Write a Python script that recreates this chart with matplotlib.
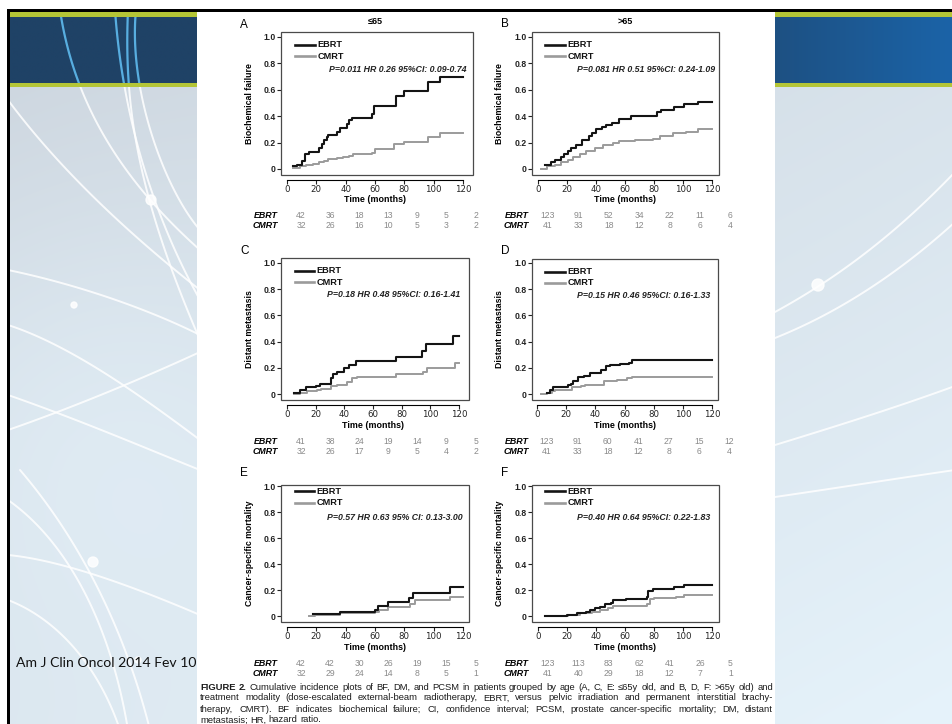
import numpy as np
import matplotlib
matplotlib.use("Agg")
import matplotlib.pyplot as plt
from matplotlib import font_manager as fm
from matplotlib.patches import Rectangle, Circle

W, H = 952, 724

# ---------------------------------------------------------------- data
months = [0, 20, 40, 60, 80, 100, 120]
yticks = [0, 0.2, 0.4, 0.6, 0.8, 1.0]
ytick_labels = ["0", "0.2", "0.4", "0.6", "0.8", "1.0"]

a_ebrt_t = [4, 7, 10, 12, 15, 22, 24, 25, 27, 28, 34, 36, 41, 42, 44, 58, 59, 74, 80, 96, 104, 120]
a_ebrt_v = [0.02, 0.03, 0.06, 0.115, 0.13, 0.16, 0.19, 0.22, 0.245, 0.26, 0.28, 0.31, 0.34, 0.37, 0.39,
            0.42, 0.48, 0.55, 0.59, 0.66, 0.70, 0.70]
a_cmrt_t = [4, 9, 13, 18, 22, 25, 28, 34, 38, 42, 45, 58, 60, 73, 80, 96, 104, 120]
a_cmrt_v = [0.01, 0.02, 0.03, 0.04, 0.05, 0.06, 0.075, 0.08, 0.09, 0.10, 0.115, 0.12, 0.155, 0.19,
            0.205, 0.24, 0.27, 0.27]

b_ebrt_t = [5, 9, 12, 16, 18, 21, 23, 26, 30, 35, 37, 40, 44, 47, 51, 56, 64, 82, 85, 94, 101, 110, 120]
b_ebrt_v = [0.03, 0.05, 0.07, 0.09, 0.11, 0.14, 0.16, 0.18, 0.22, 0.25, 0.27, 0.30, 0.32, 0.33, 0.35,
            0.38, 0.40, 0.43, 0.45, 0.47, 0.49, 0.51, 0.51]
b_cmrt_t = [2, 6, 12, 16, 21, 24, 29, 33, 39, 45, 52, 56, 67, 79, 84, 93, 102, 110, 120]
b_cmrt_v = [0.0, 0.02, 0.03, 0.05, 0.07, 0.09, 0.11, 0.14, 0.16, 0.18, 0.20, 0.21, 0.22, 0.23, 0.25,
            0.27, 0.28, 0.30, 0.30]

c_ebrt_t = [5, 9, 13, 20, 23, 31, 32, 35, 40, 43, 48, 76, 94, 97, 116, 120]
c_ebrt_v = [0.01, 0.03, 0.05, 0.06, 0.08, 0.12, 0.15, 0.17, 0.20, 0.22, 0.25, 0.28, 0.33, 0.38, 0.44, 0.44]
c_cmrt_t = [5, 9, 14, 21, 24, 31, 35, 42, 45, 49, 76, 95, 98, 117, 120]
c_cmrt_v = [0.0, 0.01, 0.02, 0.03, 0.04, 0.06, 0.07, 0.09, 0.12, 0.13, 0.15, 0.17, 0.20, 0.24, 0.24]

d_ebrt_t = [7, 9, 11, 21, 23, 25, 28, 32, 36, 44, 47, 50, 57, 63, 65, 120]
d_ebrt_v = [0.01, 0.03, 0.05, 0.07, 0.08, 0.10, 0.13, 0.14, 0.16, 0.18, 0.21, 0.22, 0.23, 0.24, 0.26, 0.26]
d_cmrt_t = [3, 7, 10, 12, 24, 30, 33, 46, 55, 62, 65, 120]
d_cmrt_v = [0.0, 0.01, 0.02, 0.03, 0.05, 0.06, 0.07, 0.10, 0.11, 0.12, 0.13, 0.13]

e_ebrt_t = [18, 36, 60, 62, 69, 83, 86, 111, 120]
e_ebrt_v = [0.013, 0.03, 0.05, 0.08, 0.11, 0.14, 0.18, 0.22, 0.22]
e_cmrt_t = [15, 19, 36, 60, 63, 69, 84, 87, 111, 120]
e_cmrt_v = [0.0, 0.01, 0.02, 0.03, 0.05, 0.07, 0.09, 0.12, 0.15, 0.15]

f_ebrt_t = [5, 20, 27, 33, 36, 39, 43, 46, 50, 52, 61, 75, 76, 79, 94, 101, 120]
f_ebrt_v = [0.0, 0.01, 0.02, 0.03, 0.05, 0.06, 0.07, 0.09, 0.10, 0.12, 0.13, 0.15, 0.19, 0.21, 0.22, 0.24, 0.24]
f_cmrt_t = [5, 21, 29, 37, 43, 48, 52, 75, 77, 80, 95, 101, 120]
f_cmrt_v = [0.0, 0.01, 0.02, 0.03, 0.05, 0.06, 0.08, 0.09, 0.13, 0.14, 0.15, 0.16, 0.16]

a_risk_ebrt = [42, 36, 18, 13, 9, 5, 2]
a_risk_cmrt = [32, 26, 16, 10, 5, 3, 2]
b_risk_ebrt = [123, 91, 52, 34, 22, 11, 6]
b_risk_cmrt = [41, 33, 18, 12, 8, 6, 4]
c_risk_ebrt = [41, 38, 24, 19, 14, 9, 5]
c_risk_cmrt = [32, 26, 17, 9, 5, 4, 2]
d_risk_ebrt = [123, 91, 60, 41, 27, 15, 12]
d_risk_cmrt = [41, 33, 18, 12, 8, 6, 4]
e_risk_ebrt = [42, 42, 30, 26, 19, 15, 5]
e_risk_cmrt = [32, 29, 24, 14, 8, 5, 1]
f_risk_ebrt = [123, 113, 83, 62, 41, 26, 5]
f_risk_cmrt = [41, 40, 29, 18, 12, 7, 1]

stats = ["P=0.011 HR 0.26 95%CI: 0.09-0.74", "P=0.081 HR 0.51 95%CI: 0.24-1.09",
         "P=0.18 HR 0.48 95%CI: 0.16-1.41", "P=0.15 HR 0.46 95%CI: 0.16-1.33",
         "P=0.57 HR 0.63 95% CI: 0.13-3.00", "P=0.40 HR 0.64 95%CI: 0.22-1.83"]
ylabels = ["Biochemical failure", "Biochemical failure", "Distant metastasis", "Distant metastasis",
           "Cancer-specific mortality", "Cancer-specific mortality"]
letters = ["A", "B", "C", "D", "E", "F"]

caption = ["FIGURE 2. Cumulative incidence plots of BF, DM, and PCSM in patients grouped by age (A, C, E: \u226465y old, and B, D, F: >65y old) and",
           "treatment modality (dose-escalated external-beam radiotherapy, EBRT, versus pelvic irradiation and permanent interstitial brachy-",
           "therapy, CMRT). BF indicates biochemical failure; CI, confidence interval; PCSM, prostate cancer-specific mortality; DM, distant",
           "metastasis; HR, hazard ratio."]

# ---------------------------------------------------------------- fonts
try:
    fm.findfont(fm.FontProperties(family="Liberation Sans Narrow"), fallback_to_default=False)
    NARROW = "Liberation Sans Narrow"
except ValueError:
    NARROW = "Liberation Sans"

EBRT_C = "#141414"
CMRT_C = "#9b9b9b"
NUM_C = "#8a8a8a"

fig = plt.figure(figsize=(W / 100, H / 100), dpi=100)
bg = fig.add_axes([0, 0, 1, 1])
bg.set_xlim(0, W)
bg.set_ylim(H, 0)
bg.axis("off")
rend = fig.canvas.get_renderer()


def fit_size(text, target_px, **kw):
    # font size that gives the text the width measured on the reference
    probe = bg.text(0, 0, text, fontsize=10, **kw)
    w = probe.get_window_extent(rend).width
    probe.remove()
    return 10 * target_px / w


fs_stat = fit_size(stats[0], 138, family=NARROW, fontweight="bold", style="italic")
fs_time = fit_size("Time (months)", 61, family=NARROW, fontweight="bold")
fs_ylab = fit_size("Biochemical failure", 80, family=NARROW, fontweight="bold")
fs_cap = fit_size(caption[0], 560, family=NARROW)
fs_leg = 6.6
fs_risk = 6.4
fs_num = 6.2

# ---------------------------------------------------------------- slide background
yy, xx = np.mgrid[0:H:2, 0:W:2]
s = np.clip(0.55 * (yy - 87) / 637 + 0.45 * xx / W, 0, 1)
hl = np.exp(-((xx - 90) ** 2 + (yy - 420) ** 2) / (2 * 170 ** 2)) * 0.35
s = np.clip(s + hl, 0, 1)[..., None]
c0 = np.array([0xcd, 0xd6, 0xdf]) / 255
c1 = np.array([0xe6, 0xf3, 0xfb]) / 255
bg.imshow(c0 * (1 - s) + c1 * s, extent=[0, W, H, 0], aspect="auto", zorder=0, interpolation="bilinear")


def bez(p0, p1, p2, p3, n=120):
    t = np.linspace(0, 1, n)[:, None]
    p = (1 - t) ** 3 * np.array(p0) + 3 * (1 - t) ** 2 * t * np.array(p1) \
        + 3 * (1 - t) * t ** 2 * np.array(p2) + t ** 3 * np.array(p3)
    return p[:, 0], p[:, 1]


swirls = [
    ((60, 10), (72, 90), (110, 170), (200, 250)),
    ((115, 10), (122, 110), (150, 210), (200, 300)),
    ((128, 10), (124, 100), (135, 190), (200, 340)),
    ((136, 10), (128, 90), (165, 190), (200, 230)),
    ((8, 100), (60, 170), (130, 235), (200, 290)),
    ((8, 270), (80, 285), (150, 310), (200, 335)),
    ((8, 325), (70, 345), (140, 395), (200, 440)),
    ((8, 395), (80, 420), (150, 450), (200, 470)),
    ((8, 430), (80, 405), (150, 375), (200, 352)),
    ((8, 555), (60, 560), (130, 585), (200, 615)),
    ((20, 470), (80, 540), (125, 630), (150, 730)),
    ((8, 500), (65, 540), (110, 620), (128, 730)),
    ((8, 600), (60, 620), (100, 670), (120, 730)),
    ((775, 312), (830, 282), (890, 240), (955, 172)),
    ((775, 338), (840, 312), (900, 272), (955, 222)),
    ((775, 445), (850, 422), (900, 406), (955, 386)),
    ((775, 497), (850, 486), (900, 478), (955, 470)),
]
for sw in swirls:
    bx, by = bez(*sw)
    bg.plot(bx, by, color="white", lw=1.4, alpha=0.85, zorder=1, solid_capstyle="round")
for cx, cy, r in [(151, 200, 5), (74, 305, 3), (93, 562, 5), (138, 660, 3), (818, 285, 6)]:
    bg.add_patch(Circle((cx, cy), r, color="white", alpha=0.85, zorder=1))

# header band
hx = np.linspace(0, 1, 200)
hs = np.clip((hx * W - 640) / 312, 0, 1)
hcol0 = np.array([0x1f, 0x42, 0x66]) / 255
hcol1 = np.array([0x1b, 0x63, 0xa7]) / 255
band = (hcol0 * (1 - hs[:, None]) + hcol1 * hs[:, None])[None, :, :]
band = np.repeat(band, 20, axis=0)
bg.imshow(band, extent=[0, W, 87, 12], aspect="auto", zorder=2, interpolation="bilinear")
hdr = Rectangle((0, 12), W, 75, transform=bg.transData)
for sw in swirls[:4]:
    bx, by = bez(*sw)
    ln, = bg.plot(bx, by, color="#58aee0", lw=1.6, zorder=3)
    ln.set_clip_path(hdr)
bg.add_patch(Rectangle((0, 12), W, 5, color="#b4c536", zorder=4, lw=0))
bg.add_patch(Rectangle((0, 83), W, 4, color="#b4c536", zorder=4, lw=0))

# white page of the journal figure
bg.add_patch(Rectangle((197, 11), 578, H, color="white", zorder=5, lw=0))
# black slide border
bg.add_patch(Rectangle((7, 9), W, 3, color="black", zorder=6, lw=0))
bg.add_patch(Rectangle((7, 9), 3, H, color="black", zorder=6, lw=0))
bg.add_patch(Rectangle((0, 0), 7, H, color="white", zorder=6, lw=0))
bg.add_patch(Rectangle((0, 0), W, 9, color="white", zorder=6, lw=0))

fs_src = fit_size("Am J Clin Oncol 2014 Fev 10", 180, family=["Lato", "DejaVu Sans"])
bg.text(16, 663, "Am J Clin Oncol 2014 Fev 10", fontsize=fs_src, family=["Lato", "DejaVu Sans"],
        color="#111111", va="center", ha="left", zorder=7)

# ---------------------------------------------------------------- panels
# frame (left, top, right, bottom) px, x of 0 and 120, y of 1.0 and 0
layout = [
    ((281, 32, 473, 175), (287, 463), (37, 169)),
    ((532, 32, 719, 175), (538, 712), (37, 169)),
    ((281, 258, 469, 400), (287, 459), (263, 394)),
    ((532, 259, 718, 400), (537, 712), (263, 394)),
    ((281, 485, 469, 622), (287, 463), (486, 616)),
    ((532, 485, 719, 622), (538, 712), (486, 616)),
]
curves = [(a_ebrt_t, a_ebrt_v, a_cmrt_t, a_cmrt_v), (b_ebrt_t, b_ebrt_v, b_cmrt_t, b_cmrt_v),
          (c_ebrt_t, c_ebrt_v, c_cmrt_t, c_cmrt_v), (d_ebrt_t, d_ebrt_v, d_cmrt_t, d_cmrt_v),
          (e_ebrt_t, e_ebrt_v, e_cmrt_t, e_cmrt_v), (f_ebrt_t, f_ebrt_v, f_cmrt_t, f_cmrt_v)]
risks = [(a_risk_ebrt, a_risk_cmrt), (b_risk_ebrt, b_risk_cmrt), (c_risk_ebrt, c_risk_cmrt),
         (d_risk_ebrt, d_risk_cmrt), (e_risk_ebrt, e_risk_cmrt), (f_risk_ebrt, f_risk_cmrt)]
leg_y = [(0.91, 0.83, 0.74)] * 4 + [(0.955, 0.87, 0.765)] * 2
stat_x = [0.964, 0.979, 0.952, 0.957, 0.968, 0.952]
risk_y = [(215, 225), (215, 225), (441, 451), (441, 451), (663, 674), (663, 674)]
letter_y = [25, 24, 251, 251, 473, 473]

for i, ((l, t, r, b), (x0, x120), (y1, y0)) in enumerate(layout):
    ax = fig.add_axes([l / W, 1 - b / H, (r - l) / W, (b - t) / H])
    ax.set_zorder(10)
    ppx = (x120 - x0) / 120
    ax.set_xlim(-(x0 - l) / ppx, 120 + (r - x120) / ppx)
    ppy = y0 - y1
    ax.set_ylim(-(b - y0) / ppy, 1 + (y1 - t) / ppy)

    et, ev, ct, cv = curves[i]
    ax.step(ct, cv, where="post", color=CMRT_C, lw=1.4, zorder=2)
    ax.step(et, ev, where="post", color=EBRT_C, lw=1.5, zorder=3)

    ax.set_xticks(months)
    ax.set_xticklabels([str(m) for m in months])
    ax.set_yticks(yticks)
    ax.set_yticklabels(ytick_labels)
    ax.tick_params(length=2.6, width=0.8, pad=1.2, labelsize=6.2, colors="#222222")
    for lab in ax.get_xticklabels() + ax.get_yticklabels():
        lab.set_fontweight("bold")
        lab.set_family("Liberation Sans")
    for side in ["top", "right", "left"]:
        ax.spines[side].set_visible(False)
    ax.spines["bottom"].set_position(("outward", 3.6))
    ax.spines["bottom"].set_bounds(0, 120)
    ax.spines["bottom"].set_linewidth(0.8)
    ax.add_patch(Rectangle((0, 0), 1, 1, transform=ax.transAxes, fill=False, ec="#4a4a4a",
                           lw=0.9, clip_on=False, zorder=4))

    # legend
    ly = leg_y[i]
    ax.plot([0.072, 0.178], [ly[0], ly[0]], transform=ax.transAxes, color=EBRT_C, lw=1.9)
    ax.plot([0.072, 0.178], [ly[1], ly[1]], transform=ax.transAxes, color=CMRT_C, lw=1.9)
    ax.text(0.19, ly[0], "EBRT", transform=ax.transAxes, fontsize=fs_leg, family=NARROW,
            fontweight="bold", va="center", color="#111111")
    ax.text(0.19, ly[1], "CMRT", transform=ax.transAxes, fontsize=fs_leg, family=NARROW,
            fontweight="bold", va="center", color="#111111")
    ax.text(stat_x[i], ly[2], stats[i], transform=ax.transAxes, fontsize=fs_stat, family=NARROW,
            fontweight="bold", style="italic", ha="right", va="center", color="#222222")

    # labels drawn in slide pixel coordinates
    bg.text((x0 + x120) / 2, b + 25, "Time (months)", fontsize=fs_time, family=NARROW,
            fontweight="bold", ha="center", va="center", zorder=7)
    bg.text(l - 32, (t + b) / 2, ylabels[i], rotation=90, fontsize=fs_ylab, family=NARROW,
            fontweight="bold", ha="center", va="center", zorder=7)
    bg.text(l - 41 if i % 2 == 0 else l - 31, letter_y[i], letters[i], fontsize=8.5,
            family="Liberation Sans", ha="left", va="center", zorder=7)

    # numbers at risk
    lab_x = l - 3
    start, step = (x0 + 14, 29.1) if i % 2 == 0 else (x0 + 10, 30.4)
    for row, (name, vals) in enumerate(zip(["EBRT", "CMRT"], risks[i])):
        yrow = risk_y[i][row]
        bg.text(lab_x, yrow, name, fontsize=fs_risk, family=NARROW, fontweight="bold",
                style="italic", ha="right", va="center", zorder=7)
        for k, v in enumerate(vals):
            bg.text(start + k * step, yrow, str(v), fontsize=fs_num, family=NARROW,
                    color=NUM_C, ha="center", va="center", zorder=7)

bg.text(375, 22, "\u226465", fontsize=6.5, family="Liberation Sans", fontweight="bold",
        ha="center", va="center", zorder=7)
bg.text(625, 22, ">65", fontsize=6.5, family="Liberation Sans", fontweight="bold",
        ha="center", va="center", zorder=7)

# ---------------------------------------------------------------- justified caption
cap_y = [687, 698, 709, 720]
for li, line in enumerate(caption):
    words = line.split()
    objs = []
    for wi, w in enumerate(words):
        bold = li == 0 and wi < 2
        objs.append(bg.text(200, cap_y[li], w, fontsize=fs_cap, family=NARROW,
                            fontweight="bold" if bold else "normal", ha="left", va="center",
                            color="#1a1a1a", zorder=7))
    widths = [o.get_window_extent(rend).width for o in objs]
    if li == len(caption) - 1:
        gap = 2.4
    else:
        gap = (773 - 200 - sum(widths)) / (len(words) - 1)
    xpos = 200
    for o, wd in zip(objs, widths):
        o.set_x(xpos)
        xpos += wd + gap

fig.savefig("out.png", dpi=100)
